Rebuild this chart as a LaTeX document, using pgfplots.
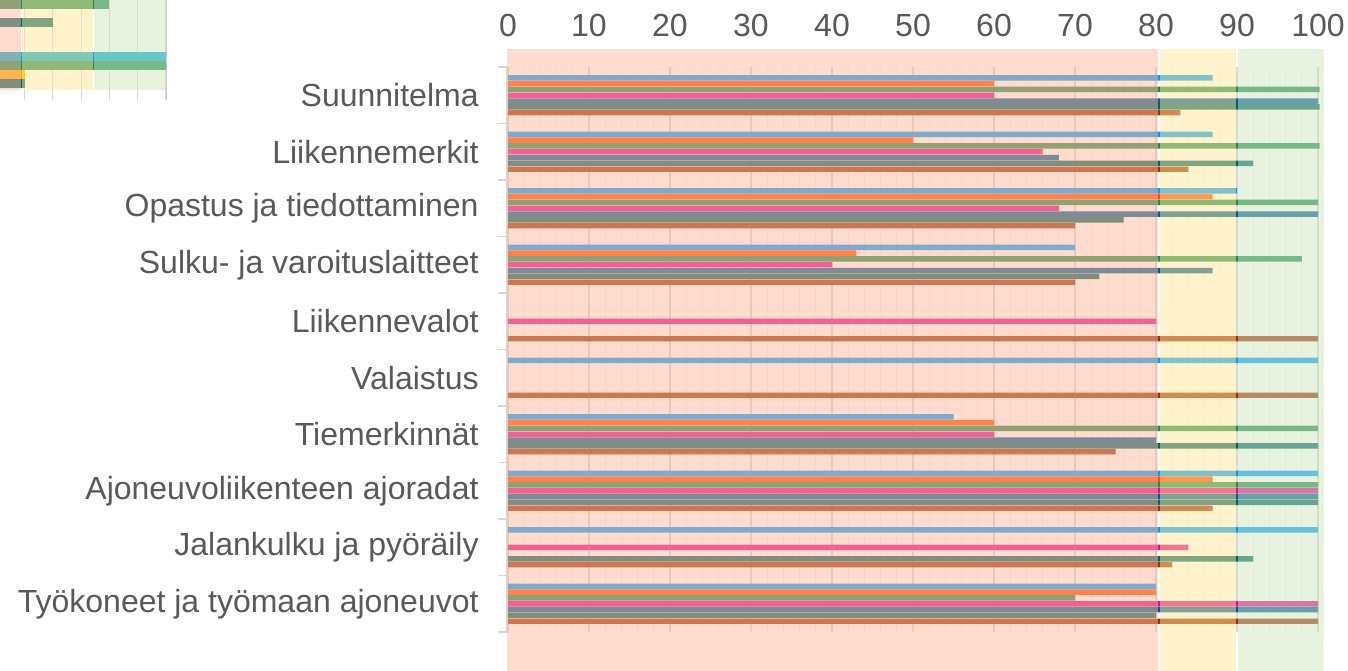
\documentclass[border=0pt]{standalone}
\usepackage{pgfplots}
\pgfplotsset{compat=1.18}
\usepackage{pgfplotstable}
\usepackage{fontspec}
\setmainfont{Liberation Sans}
\definecolor{cA}{RGB}{0,155,255}
\definecolor{cB}{RGB}{255,75,0}
\definecolor{cC}{RGB}{33,139,79}
\definecolor{cD}{RGB}{223,11,139}
\definecolor{cE}{RGB}{0,90,150}
\definecolor{cF}{RGB}{0,100,100}
\definecolor{cG}{RGB}{153,51,9}
\definecolor{iA}{RGB}{0,170,210}
\definecolor{iB}{RGB}{255,175,0}
\definecolor{bS}{RGB}{255,185,155}
\definecolor{bY}{RGB}{255,231,155}
\definecolor{bG}{RGB}{207,229,191}
\definecolor{lbl}{RGB}{89,89,89}
\definecolor{gmaj}{RGB}{215,215,215}
\definecolor{gmin}{RGB}{243,243,243}
\newcommand\lblfont{\fontsize{16pt}{18pt}\selectfont}

\pgfplotstableread{
c s1 s2 s3 s4 s5 s6 s7
0 87 60 100.2 60 100 100.2 83
1 87 50 100.2 66 68 92 84
2 90 87 100 68 100 76 70
3 70 43 98 40 87 73 70
4 nan nan nan 80 nan nan 100
5 100 nan nan nan nan nan 100
6 55 60 100 60 80 100 75
7 100 87 100 100 100 100 87
8 100 nan nan 84 nan 92 82
9 80 80 70 100 100 80 100
}\maindata

\pgfplotsset{mybar/.style={xbar, bar width=0.097, bar shift=0pt, draw=none}}

\begin{document}
\begin{tikzpicture}
\useasboundingbox (0,0) rectangle (674pt,335pt);
\clip (0,0) rectangle (674pt,335pt);
\begin{axis}[
  at={(254pt,19pt)}, anchor=south west,
  scale only axis, width=405pt, height=282.5pt,
  xmin=0, xmax=100, ymin=-0.5, ymax=9.5, y dir=reverse,
  clip=false,
  axis line style={draw=none},
  xtick={0,10,...,100}, minor x tick num=4,
  xticklabel pos=upper,
  major tick length=0pt, minor tick length=0pt,
  xmajorgrids, xminorgrids,
  major grid style={gmaj, line width=0.6pt},
  minor grid style={gmin, line width=0.6pt},
  ytick={0,...,9},
  yticklabels={Suunnitelma, Liikennemerkit, Opastus ja tiedottaminen, Sulku- ja varoituslaitteet, Liikennevalot, Valaistus, Tiemerkinnät, Ajoneuvoliikenteen ajoradat, Jalankulku ja pyöräily, Työkoneet ja työmaan ajoneuvot},
  ytick pos=left,
  extra y ticks={-0.5,0.5,...,9.5},
  extra y tick labels={},
  extra y tick style={major tick length=5pt, tick align=outside, tick style={gmaj, line width=0.9pt}, ymajorgrids=false},
  tick label style={font=\lblfont, text=lbl},
  /pgf/number format/assume math mode=true,
  yticklabel style={anchor=east, inner sep=0pt, xshift=-14.5pt},
  xticklabel style={anchor=base, inner sep=0pt, yshift=15.25pt},
]
\addplot[mybar, fill=cA] table[x=s1, y expr=\thisrow{c}-0.3096] {\maindata};
\addplot[mybar, fill=cB] table[x=s2, y expr=\thisrow{c}-0.2064] {\maindata};
\addplot[mybar, fill=cC] table[x=s3, y expr=\thisrow{c}-0.1032] {\maindata};
\addplot[mybar, fill=cD] table[x=s4, y expr=\thisrow{c}] {\maindata};
\addplot[mybar, fill=cE] table[x=s5, y expr=\thisrow{c}+0.1032] {\maindata};
\addplot[mybar, fill=cF] table[x=s6, y expr=\thisrow{c}+0.2064] {\maindata};
\addplot[mybar, fill=cG] table[x=s7, y expr=\thisrow{c}+0.3096] {\maindata};
\draw[gmaj, line width=0.9pt] (axis cs:-0.1,-0.5) -- (axis cs:-0.1,9.5);
\fill[bS, fill opacity=0.5] (axis cs:-0.1,-0.819) rectangle (axis cs:80.3,10.3);
\fill[bY, fill opacity=0.5] (axis cs:80.5,-0.819) rectangle (axis cs:89.9,10.3);
\fill[bG, fill opacity=0.5] (axis cs:90.1,-0.819) rectangle (axis cs:100.7,10.3);
\end{axis}

\begin{axis}[
  at={(0pt,285pt)}, anchor=south west,
  scale only axis, width=83pt, height=50pt,
  xmin=41.3, xmax=100, ymin=0, ymax=100, y dir=reverse,
  clip=false,
  axis line style={draw=none},
  xtick={50,60,...,100}, xticklabels={}, ytick=\empty,
  major tick length=0pt,
  xmajorgrids, major grid style={gmaj, line width=0.6pt},
]
\addplot[xbar, bar width=9.2, bar shift=0pt, draw=none, fill=cC] coordinates {(80,4.6)};
\addplot[xbar, bar width=9.2, bar shift=0pt, draw=none, fill=cF] coordinates {(60,22.8)};
\addplot[xbar, bar width=9.2, bar shift=0pt, draw=none, fill=iA] coordinates {(100,56.3)};
\addplot[xbar, bar width=9.2, bar shift=0pt, draw=none, fill=cC] coordinates {(100,65.6)};
\addplot[xbar, bar width=9.2, bar shift=0pt, draw=none, fill=iB] coordinates {(50,74.6)};
\addplot[xbar, bar width=9.2, bar shift=0pt, draw=none, fill=cF] coordinates {(50,83.6)};
\fill[bS, fill opacity=0.5] (axis cs:30,0) rectangle (axis cs:48.7,90);
\fill[bY, fill opacity=0.5] (axis cs:49.0,0) rectangle (axis cs:74.3,90);
\fill[bG, fill opacity=0.5] (axis cs:74.6,0) rectangle (axis cs:100,90);
\draw[gray!40, line width=0.9pt] (axis cs:100.2,0) -- (axis cs:100.2,100);
\end{axis}
\end{tikzpicture}
\end{document}
